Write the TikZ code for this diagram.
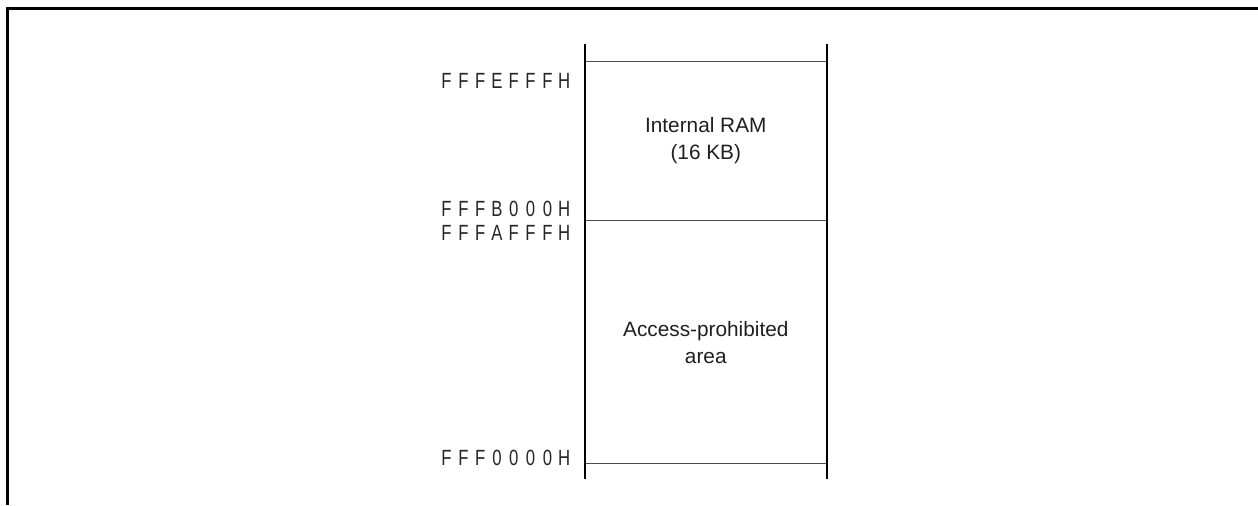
\documentclass[tikz,border=0pt]{standalone}
\usepackage{fontspec}
\setmainfont{Liberation Sans}
\newfontfamily\addrfont{Liberation Sans}[FakeStretch=0.76]
\usetikzlibrary{positioning}

% address digits sit on a fixed pitch
\newcommand\addrpitch{8.4pt}
\def\addrloop#1{\ifx#1\relax\else\makebox[\addrpitch]{#1}\expandafter\addrloop\fi}
\newcommand\addr[1]{\addrloop#1\relax}

\begin{document}
\begin{tikzpicture}[
    x=0.5pt, y=-0.5pt,
    region/.style={inner sep=0pt, minimum width=120.8pt, align=center,
        font=\fontsize{10.4}{13.5}\selectfont, text=black!88},
    addrlabel/.style={inner sep=0pt, anchor=east, text=black!85,
        font=\addrfont\fontsize{11}{12}\selectfont},
    wall/.style={line width=1pt},
    divider/.style={line width=0.5pt, draw=black!70},
    frame/.style={line width=1.5pt, line join=miter}
]
\useasboundingbox (0,0) rectangle (1258,505);

% outer frame
\draw[frame] (7.3,505) -- (7.3,8.2) -- (1258,8.2);

% Memory regions
\node[region, minimum height=79pt] (ram) at (705.8,141) {Internal RAM\\(16 KB)};
\node[region, minimum height=121.3pt, below=0pt of ram] (prohib) {Access-prohibited\\area};

% Dividers
\draw[divider] (ram.north west) -- (ram.north east);
\draw[divider] (ram.south west) -- (ram.south east);
\draw[divider] (prohib.south west) -- (prohib.south east);

% Side walls
\coordinate (wltop) at ([yshift=8.85pt]ram.north west);
\coordinate (wlbot) at ([yshift=-7.65pt]prohib.south west);
\coordinate (wrtop) at ([yshift=8.85pt]ram.north east);
\coordinate (wrbot) at ([yshift=-7.65pt]prohib.south east);
\draw[wall] (wltop) -- (wlbot);
\draw[wall] (wrtop) -- (wrbot);

% Addresses
\node[addrlabel] (a1) at (573,80.7) {\addr{FFFEFFFH}};
\node[addrlabel] (a2) at (573,208.8) {\addr{FFFB000H}};
\node[addrlabel] (a3) at (573,232.5) {\addr{FFFAFFFH}};
\node[addrlabel] (a4) at (573,458) {\addr{FFF0000H}};

\end{tikzpicture}
\end{document}
